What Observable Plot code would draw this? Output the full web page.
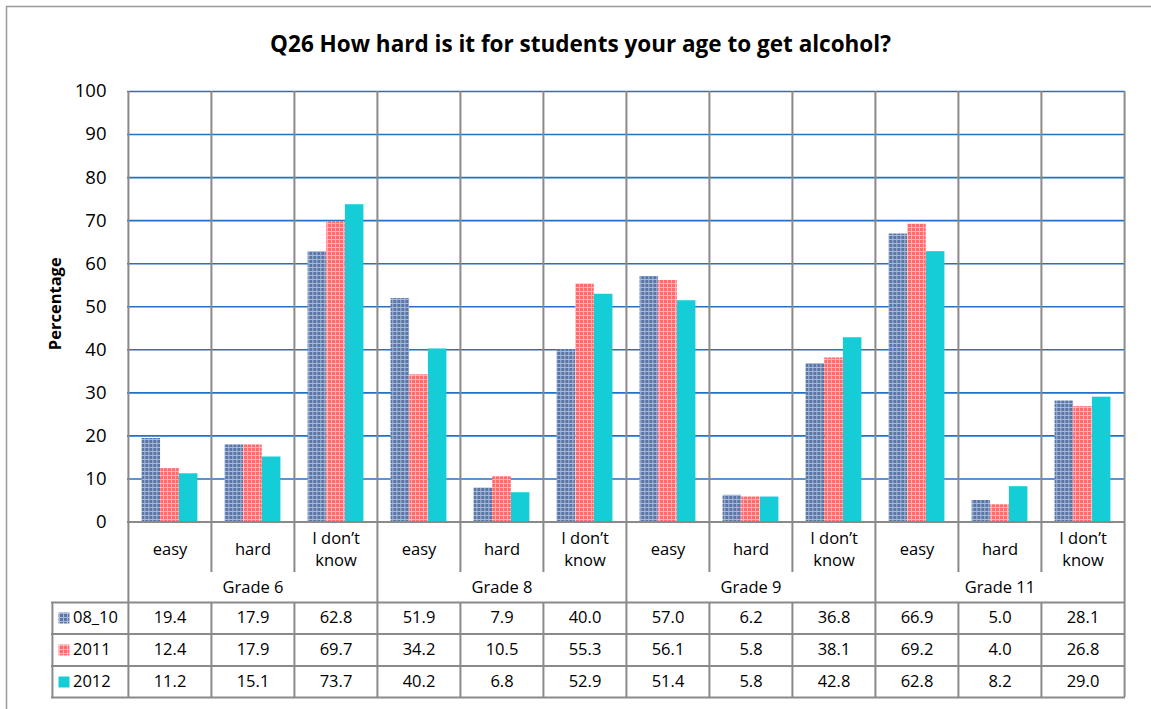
<!DOCTYPE html>
<html>
<head>
<meta charset="utf-8">
<script src="https://cdn.jsdelivr.net/npm/d3@7"></script>
<script src="https://cdn.jsdelivr.net/npm/@observablehq/plot@0.6"></script>
<style>
  html, body { margin: 0; padding: 0; background: #fff; }
  #chart { position: absolute; left: 0; top: 0; }
</style>
</head>
<body>
<svg width="0" height="0" style="position:absolute">
  <defs>
    <pattern id="pat0810" width="4" height="4" patternUnits="userSpaceOnUse">
      <rect width="4" height="4" fill="#5a76a6"/>
      <rect x="3" width="1" height="4" fill="#a8bad8"/>
      <rect y="3" width="4" height="1" fill="#a8bad8"/>
    </pattern>
    <pattern id="pat2011" width="4" height="4" patternUnits="userSpaceOnUse">
      <rect width="4" height="4" fill="#ff6b6b"/>
      <rect x="3" width="1" height="4" fill="#ffb4b4"/>
      <rect y="3" width="4" height="1" fill="#ffb4b4"/>
    </pattern>
  </defs>
</svg>
<div id="chart"></div>
<script>
// ---- data ----
const title = "Q26 How hard is it for students your age to get alcohol?";
const grades = ["Grade 6", "Grade 8", "Grade 9", "Grade 11"];
const answers = ["easy", "hard", "I don’t\nknow"];
const seriesNames = ["08_10", "2011", "2012"];
const v0810 = [19.4, 17.9, 62.8, 51.9, 7.9, 40.0, 57.0, 6.2, 36.8, 66.9, 5.0, 28.1];
const v2011 = [12.4, 17.9, 69.7, 34.2, 10.5, 55.3, 56.1, 5.8, 38.1, 69.2, 4.0, 26.8];
const v2012 = [11.2, 15.1, 73.7, 40.2, 6.8, 52.9, 51.4, 5.8, 42.8, 62.8, 8.2, 29.0];
const yTicks = [0, 10, 20, 30, 40, 50, 60, 70, 80, 90, 100];

// ---- derived ----
const seriesValues = [v0810, v2011, v2012];
const seriesFill = ["url(#pat0810)", "url(#pat2011)", "#14cdd6"];
const cols = grades.flatMap((g, gi) => answers.map((a, ai) => ({col: gi * 3 + ai, grade: g, answer: a})));

const W = 1151, H = 709;
const ML = 127, MR = 26, MT = 91, MB = 187.5;
const bw = (W - ML - MR) / cols.length;
const barW = bw * 0.2245;
const inset = (bw - barW) / 2;
const FONT = "'Open Sans', Lato, sans-serif";
const gray = "#8a8a8a";

const below = (y) => y - (H - MB); // offset from frame bottom

const marks = [];

// outer chart border (top & left visible)
marks.push(Plot.frame({stroke: "#9a9a9a", strokeWidth: 1.5, insetLeft: -(ML - 6), insetTop: -(MT - 6), insetRight: -(MR + 20), insetBottom: -(MB + 20)}));

// blue gridlines
marks.push(Plot.gridY(yTicks.filter(t => t > 0), {stroke: "#2271c6", strokeOpacity: 1, strokeWidth: 1.6}));

// bars
seriesValues.forEach((vals, si) => {
  marks.push(Plot.barY(cols, {
    x: "col", y: d => vals[d.col], fill: seriesFill[si],
    insetLeft: inset, insetRight: inset, dx: (si - 1) * barW
  }));
});

// zero axis line
marks.push(Plot.ruleY([0], {stroke: gray, strokeWidth: 2}));

// vertical lines
const boundaries = d3.range(cols.length + 1);
const colOf = b => Math.min(b, cols.length - 1);
const dxOf = b => (b < cols.length ? -bw / 2 : bw / 2);
boundaries.forEach(b => {
  if (b % 3 === 0) {
    marks.push(Plot.ruleX([colOf(b)], {stroke: gray, strokeWidth: 2, dx: dxOf(b), insetBottom: -below(697)}));
  } else {
    marks.push(Plot.ruleX([colOf(b)], {stroke: gray, strokeWidth: 2, dx: dxOf(b), insetBottom: -below(572)}));
    marks.push(Plot.ruleX([colOf(b)], {stroke: gray, strokeWidth: 2, dx: dxOf(b), insetTop: 602 - MT, insetBottom: -below(697)}));
  }
});
// table left border
marks.push(Plot.ruleX([0], {stroke: gray, strokeWidth: 2, dx: -bw / 2 - (ML - 51), insetTop: 602 - MT, insetBottom: -below(697)}));
// table horizontal lines
[602, 633.5, 665.5, 697].forEach(yy => {
  marks.push(Plot.ruleY([0], {stroke: gray, strokeWidth: 2, dy: below(yy), insetLeft: -(ML - 51)}));
});

const txt = {fontSize: 16.5, fill: "#000", lineAnchor: "middle"};

// category labels
marks.push(Plot.text(cols, {...txt, x: "col", text: "answer", frameAnchor: "bottom", dy: below(547.5), lineHeight: 1.3}));
// grade labels (centered on middle column of each grade)
marks.push(Plot.text(cols.filter(d => d.col % 3 === 1), {...txt, x: "col", text: "grade", frameAnchor: "bottom", dy: below(587)}));

// table rows
const rowCenters = [617.5, 649.5, 681.5];
seriesValues.forEach((vals, si) => {
  marks.push(Plot.text(cols, {...txt, x: "col", text: d => vals[d.col].toFixed(1), frameAnchor: "bottom", dy: below(rowCenters[si])}));
  marks.push(Plot.dot([seriesNames[si]], {frameAnchor: "bottom-left", dx: 63.5 - ML, dy: below(rowCenters[si]), symbol: "square", r: 6.2, fill: seriesFill[si], stroke: "none"}));
  marks.push(Plot.text([seriesNames[si]], {...txt, frameAnchor: "bottom-left", dx: 72.5 - ML, dy: below(rowCenters[si]), text: d => d, textAnchor: "start"}));
});

// y axis
marks.push(Plot.axisY(yTicks, {tickSize: 0, tickPadding: 21, fontSize: 18.5, label: null, fill: "#000"}));
marks.push(Plot.text(["Percentage"], {frameAnchor: "left", textAnchor: "middle", dx: 55 - ML, dy: -3, rotate: -90, fontWeight: "bold", fontSize: 16.5, fill: "#000", lineAnchor: "middle"}));

// title
marks.push(Plot.text([title], {frameAnchor: "top", lineAnchor: "middle", dx: 580 - (ML + (W - ML - MR) / 2), dy: 44 - MT, fontWeight: "bold", fontSize: 22.5, fill: "#000"}));

const chart = Plot.plot({
  width: W, height: H,
  marginLeft: ML, marginRight: MR, marginTop: MT, marginBottom: MB,
  style: {fontFamily: FONT, background: "#fff", overflow: "visible"},
  x: {type: "band", domain: cols.map(d => d.col), padding: 0, axis: null},
  y: {domain: [0, 100], axis: null},
  marks
});
document.getElementById("chart").append(chart);
</script>
</body>
</html>
